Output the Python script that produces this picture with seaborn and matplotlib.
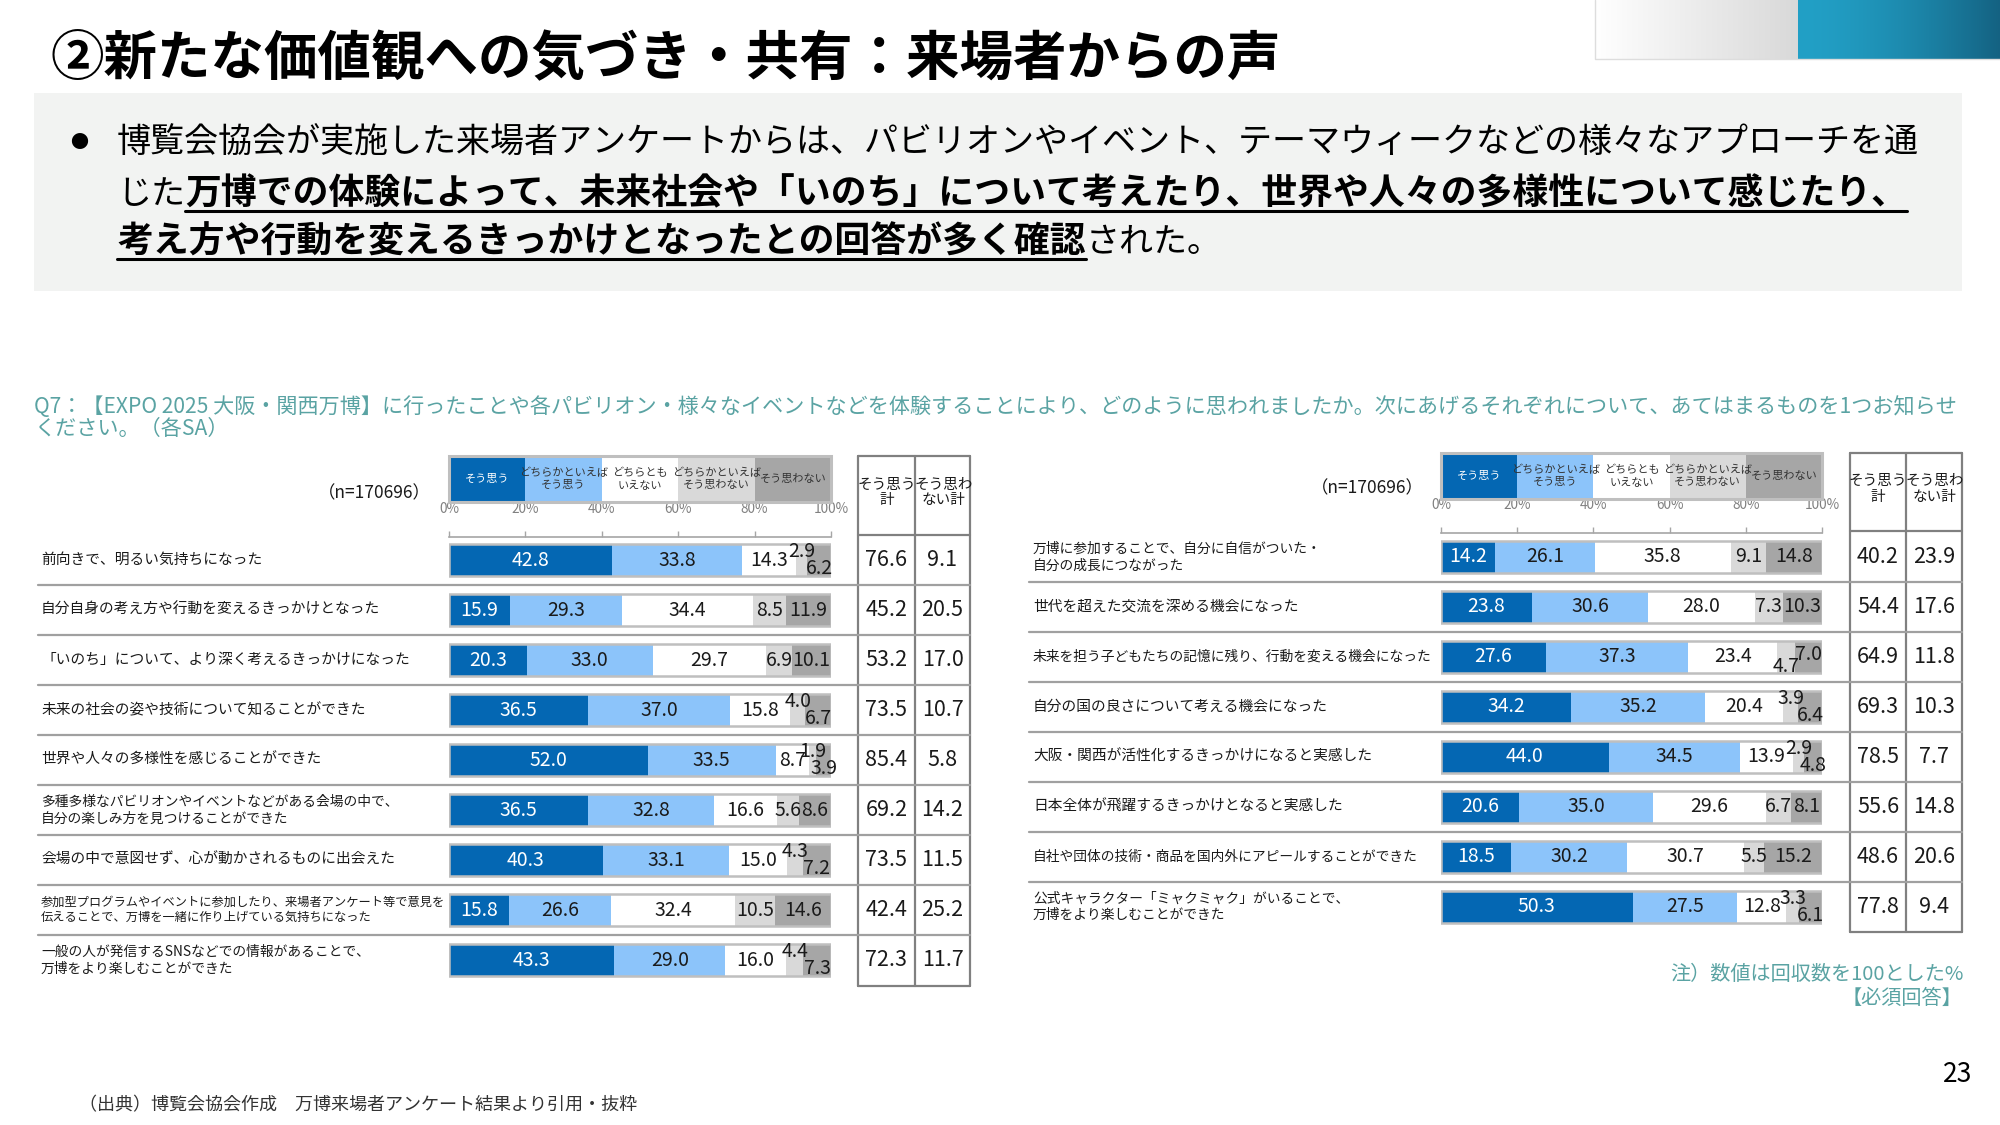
import numpy as np
import pandas as pd
import matplotlib
matplotlib.use("Agg")
import matplotlib.pyplot as plt
import seaborn as sns
from matplotlib.transforms import blended_transform_factory
from matplotlib.patches import Rectangle
from matplotlib.lines import Line2D

# ---------------- data ----------------
title = "②新たな価値観への気づき・共有：来場者からの声"
bullet_lines = [
    [("博覧会協会が実施した来場者アンケートからは、パビリオンやイベント、テーマウィークなどの様々なアプローチを通", False)],
    [("じた", False), ("万博での体験によって、未来社会や「いのち」について考えたり、世界や人々の多様性について感じたり、", True)],
    [("考え方や行動を変えるきっかけとなったとの回答が多く確認", True), ("された。", False)],
]
question = ("Q7：【EXPO 2025 大阪・関西万博】に行ったことや各パビリオン・様々なイベントなどを体験することにより、"
            "どのように思われましたか。次にあげるそれぞれについて、あてはまるものを1つお知らせ\nください。（各SA）")
sample_label = "（n=170696）"
response_levels = ["そう思う", "どちらかといえば\nそう思う", "どちらとも\nいえない",
                   "どちらかといえば\nそう思わない", "そう思わない"]
total_headers = ["そう思う\n計", "そう思わ\nない計"]
tick_values = [0, 20, 40, 60, 80, 100]
tick_labels = ["0%", "20%", "40%", "60%", "80%", "100%"]
note_lines = ["注）数値は回収数を100とした%", "【必須回答】"]
source_text = "（出典）博覧会協会作成　万博来場者アンケート結果より引用・抜粋"
page_number = "23"

left_items = [
    "前向きで、明るい気持ちになった",
    "自分自身の考え方や行動を変えるきっかけとなった",
    "「いのち」について、より深く考えるきっかけになった",
    "未来の社会の姿や技術について知ることができた",
    "世界や人々の多様性を感じることができた",
    "多種多様なパビリオンやイベントなどがある会場の中で、\n自分の楽しみ方を見つけることができた",
    "会場の中で意図せず、心が動かされるものに出会えた",
    "参加型プログラムやイベントに参加したり、来場者アンケート等で意見を\n伝えることで、万博を一緒に作り上げている気持ちになった",
    "一般の人が発信するSNSなどでの情報があることで、\n万博をより楽しむことができた",
]
left_agree = [42.8, 15.9, 20.3, 36.5, 52.0, 36.5, 40.3, 15.8, 43.3]
left_rather_agree = [33.8, 29.3, 33.0, 37.0, 33.5, 32.8, 33.1, 26.6, 29.0]
left_neutral = [14.3, 34.4, 29.7, 15.8, 8.7, 16.6, 15.0, 32.4, 16.0]
left_rather_disagree = [2.9, 8.5, 6.9, 4.0, 1.9, 5.6, 4.3, 10.5, 4.4]
left_disagree = [6.2, 11.9, 10.1, 6.7, 3.9, 8.6, 7.2, 14.6, 7.3]
left_agree_total = [76.6, 45.2, 53.2, 73.5, 85.4, 69.2, 73.5, 42.4, 72.3]
left_disagree_total = [9.1, 20.5, 17.0, 10.7, 5.8, 14.2, 11.5, 25.2, 11.7]

right_items = [
    "万博に参加することで、自分に自信がついた・\n自分の成長につながった",
    "世代を超えた交流を深める機会になった",
    "未来を担う子どもたちの記憶に残り、行動を変える機会になった",
    "自分の国の良さについて考える機会になった",
    "大阪・関西が活性化するきっかけになると実感した",
    "日本全体が飛躍するきっかけとなると実感した",
    "自社や団体の技術・商品を国内外にアピールすることができた",
    "公式キャラクター「ミャクミャク」がいることで、\n万博をより楽しむことができた",
]
right_agree = [14.2, 23.8, 27.6, 34.2, 44.0, 20.6, 18.5, 50.3]
right_rather_agree = [26.1, 30.6, 37.3, 35.2, 34.5, 35.0, 30.2, 27.5]
right_neutral = [35.8, 28.0, 23.4, 20.4, 13.9, 29.6, 30.7, 12.8]
right_rather_disagree = [9.1, 7.3, 4.7, 3.9, 2.9, 6.7, 5.5, 3.3]
right_disagree = [14.8, 10.3, 7.0, 6.4, 4.8, 8.1, 15.2, 6.1]
right_agree_total = [40.2, 54.4, 64.9, 69.3, 78.5, 55.6, 48.6, 77.8]
right_disagree_total = [23.9, 17.6, 11.8, 10.3, 7.7, 14.8, 20.6, 9.4]

# ---------------- style ----------------
sns.set_theme(style="white")
FAM = ["Noto Sans CJK JP", "DejaVu Sans"]
plt.rcParams["font.family"] = FAM

seg_colors = ["#0467B3", "#8CC4FA", "#FFFFFF", "#D9D9D9", "#A6A6A6"]
TEAL = "#5AA3A3"
TXT = "#1A1A1A"

W, H = 2000, 1125
fig = plt.figure(figsize=(20, 11.25), dpi=100)
fig.patch.set_facecolor("white")


def fx(px):
    return px / W


def fy(py):
    return 1 - py / H


# background overlay in pixel coordinates (layout only)
bg = fig.add_axes([0, 0, 1, 1], zorder=-5)
bg.set_xlim(0, W)
bg.set_ylim(H, 0)
bg.axis("off")
bg.add_patch(Rectangle((34, 93), 1928, 198, facecolor="#F2F3F2", edgecolor="none"))

# top-right gradient decoration
g1 = np.linspace(1.0, 0.85, 256)
grad1 = np.tile(np.stack([g1, g1, g1], axis=-1)[None, :, :], (2, 1, 1))
bg.imshow(grad1, extent=[1595, 1798, 59, 0], aspect="auto", zorder=1)
c_a = np.array([0x22, 0xA0, 0xC6]) / 255
c_b = np.array([0x14, 0x62, 0x82]) / 255
tt = np.linspace(0, 1, 256) ** 1.6
grad2 = np.tile((c_a[None, :] * (1 - tt[:, None]) + c_b[None, :] * tt[:, None])[None, :, :], (2, 1, 1))
bg.imshow(grad2, extent=[1798, 2000, 59, 0], aspect="auto", zorder=1)
bg.plot([1595, 1595, 2000], [0, 59, 59], color="#DDDDDD", lw=1, zorder=2)
bg.set_xlim(0, W)
bg.set_ylim(H, 0)

# ---------------- header texts ----------------
fig.text(fx(50), fy(60), title, fontsize=38.5, fontweight="bold", color="#000000",
         ha="left", va="center")

renderer = fig.canvas.get_renderer()
fig.text(fx(79), fy(143), "●", fontsize=13, color="#000000", ha="center", va="center")
line_y = [143, 194, 242]
for ly, parts in zip(line_y, bullet_lines):
    xpos = 117
    for txt, bold in parts:
        t = fig.text(fx(xpos), fy(ly), txt, fontsize=25.8 if bold else 24.5,
                     fontweight="bold" if bold else "normal", color="#000000",
                     ha="left", va="center")
        bb = t.get_window_extent(renderer=renderer)
        if bold:
            yu = bb.y0 + 2
            fig.add_artist(Line2D([bb.x0 / W, bb.x1 / W], [yu / H, yu / H],
                                  transform=fig.transFigure, color="#000000", lw=2.2))
        xpos = bb.x1

fig.text(fx(34), fy(418), question, fontsize=15.2, color=TEAL, ha="left", va="center",
         linespacing=0.95)

fig.text(fx(1964), fy(975), note_lines[0], fontsize=14.5, color=TEAL, ha="right", va="center")
fig.text(fx(1962), fy(998), note_lines[1], fontsize=14.5, color=TEAL, ha="right", va="center")
fig.text(fx(79), fy(1105), source_text, fontsize=13, color="#333333", ha="left", va="center")
fig.text(fx(1958), fy(1075), page_number, fontsize=19, color="#000000", ha="center", va="center")


def label_size(text):
    lines = text.split("\n")
    m = max(len(s) for s in lines)
    if m > 30:
        return 8.8
    if len(lines) > 1 or m > 26:
        return 9.9
    return 10.6


def small_offsets(s4, s5):
    # vertical nudges for narrow segments (rows; + is downward)
    if s4 < 4.5:
        return (-0.17, 0.17)
    if s4 < 5.0:
        return (0.2, -0.04)
    return (0.0, 0.0)


def draw_panel(items, segs, agree_tot, dis_tot, g):
    n = len(items)
    pitch = 50.0
    ax = fig.add_axes([fx(g["bx0"]), fy(g["ax_bot"]), (g["bx1"] - g["bx0"]) / W,
                       (g["ax_bot"] - g["ax_top"]) / H])
    ax.patch.set_alpha(0)
    segs = np.array(segs, dtype=float)
    cum = np.cumsum(segs, axis=0)
    df = pd.DataFrame({"item": items})
    for k in range(4, -1, -1):
        df["v"] = cum[k]
        sns.barplot(data=df, x="v", y="item", orient="h", order=items, color=seg_colors[k],
                    saturation=1, width=0.64, errorbar=None, ax=ax, linewidth=0,
                    edgecolor="none")
    n0 = len(ax.patches)
    df["v"] = cum[4]
    sns.barplot(data=df, x="v", y="item", orient="h", order=items, color="#BFBFBF",
                saturation=1, width=0.64, errorbar=None, ax=ax)
    for p in ax.patches[n0:]:
        p.set_facecolor("none")
        p.set_edgecolor("#BFBFBF")
        p.set_linewidth(1.8)
        p.set_zorder(5)

    ax.set_xlim(0, 100)
    ax.set_ylim((g["ax_bot"] - g["row0"]) / pitch, -(g["row0"] - g["ax_top"]) / pitch)
    ax.set_xlabel("")
    ax.set_ylabel("")
    ax.set_yticks([])
    ax.xaxis.tick_top()
    ax.set_xticks(tick_values)
    ax.set_xticklabels(tick_labels)
    ax.tick_params(axis="x", top=True, bottom=False, direction="out", length=4, width=1,
                   color="#A6A6A6", labelsize=9.8, labelcolor="#808080", pad=11)
    for s in ["left", "right", "bottom"]:
        ax.spines[s].set_visible(False)
    ax.spines["top"].set_color("#A6A6A6")
    ax.spines["top"].set_linewidth(1.2)

    # segment value labels
    for i in range(n):
        offs = [0, 0, 0] + list(small_offsets(segs[3, i], segs[4, i]))
        for k in range(5):
            v = segs[k, i]
            xc = cum[k, i] - v / 2
            ax.text(xc, i + offs[k], f"{v:.1f}", ha="center", va="center", fontsize=14,
                    color="white" if k == 0 else TXT, zorder=6)

    fig_y = blended_transform_factory(fig.transFigure, ax.transData)
    # row labels
    for i, lab in enumerate(items):
        ax.text(fx(g["lx"]), i, lab, transform=fig_y, ha="left", va="center",
                fontsize=label_size(lab), color=TXT, linespacing=1.25, zorder=6)
    # totals
    tc = g["tcols"]
    for i in range(n):
        ax.text(fx((tc[0] + tc[1]) / 2), i, f"{agree_tot[i]:.1f}", transform=fig_y,
                ha="center", va="center", fontsize=15.5, color=TXT)
        ax.text(fx((tc[1] + tc[2]) / 2), i, f"{dis_tot[i]:.1f}", transform=fig_y,
                ha="center", va="center", fontsize=15.5, color=TXT)
    # separators
    for i in range(n - 1):
        ax.plot([fx(g["sx0"]), fx(tc[2])], [i + 0.5, i + 0.5], transform=fig_y,
                color="#A0A0A0", lw=1.6, clip_on=False, zorder=1)
    # table frame
    for xv in tc:
        bg.plot([xv, xv], [g["ttop"], g["ax_bot"]], color="#808080", lw=1.6, zorder=3)
    for yv in [g["ttop"], g["hline"], g["ax_bot"]]:
        bg.plot([tc[0], tc[2]], [yv, yv], color="#808080", lw=1.6, zorder=3)
    bg.text((tc[0] + tc[1]) / 2, (g["ttop"] + g["hline"]) / 2 - 3, total_headers[0],
            ha="center", va="center", fontsize=10.5, color=TXT, linespacing=1.15)
    bg.text((tc[1] + tc[2]) / 2 + 1, (g["ttop"] + g["hline"]) / 2 - 3, total_headers[1],
            ha="center", va="center", fontsize=10.5, color=TXT, linespacing=1.15)
    bg.set_xlim(0, W)
    bg.set_ylim(H, 0)

    # n label
    fig.text(fx(g["nx"]), fy(g["ny"]), sample_label, ha="right", va="center", fontsize=12.5,
             color=TXT)

    # legend box
    lax = fig.add_axes([fx(g["bx0"]), fy(g["ly1"]), (g["bx1"] - g["bx0"]) / W,
                        (g["ly1"] - g["ly0"]) / H])
    lax.set_xlim(0, 100)
    lax.set_ylim(-0.5, 0.5)
    lax.axis("off")
    wseg = 100 / len(response_levels)
    for k, name in enumerate(response_levels):
        bars = lax.barh(0, wseg, left=k * wseg, height=1.0, color=seg_colors[k],
                        edgecolor="none")
        t = lax.text(k * wseg + wseg / 2, 0, name, ha="center", va="center", fontsize=8,
                     color="white" if k == 0 else "#333333", linespacing=1.3)
        t.set_clip_path(bars.patches[0])
    lax.add_patch(Rectangle((0, -0.5), 100, 1.0, facecolor="none", edgecolor="#BFBFBF",
                            lw=2.2, clip_on=False))
    return ax


left_geom = dict(bx0=449, bx1=831, ax_top=537, ax_bot=986, row0=560, lx=41, sx0=38,
                 tcols=[858, 915, 970], ttop=456, hline=535, nx=431, ny=493,
                 ly0=456, ly1=502)
right_geom = dict(bx0=1441, bx1=1822, ax_top=533, ax_bot=932, row0=557, lx=1033, sx0=1029,
                  tcols=[1850, 1906, 1962], ttop=453, hline=531, nx=1424, ny=488,
                  ly0=453, ly1=499)

draw_panel(left_items,
           [left_agree, left_rather_agree, left_neutral, left_rather_disagree, left_disagree],
           left_agree_total, left_disagree_total, left_geom)
draw_panel(right_items,
           [right_agree, right_rather_agree, right_neutral, right_rather_disagree, right_disagree],
           right_agree_total, right_disagree_total, right_geom)

fig.savefig("out.png", dpi=100, facecolor="white")
